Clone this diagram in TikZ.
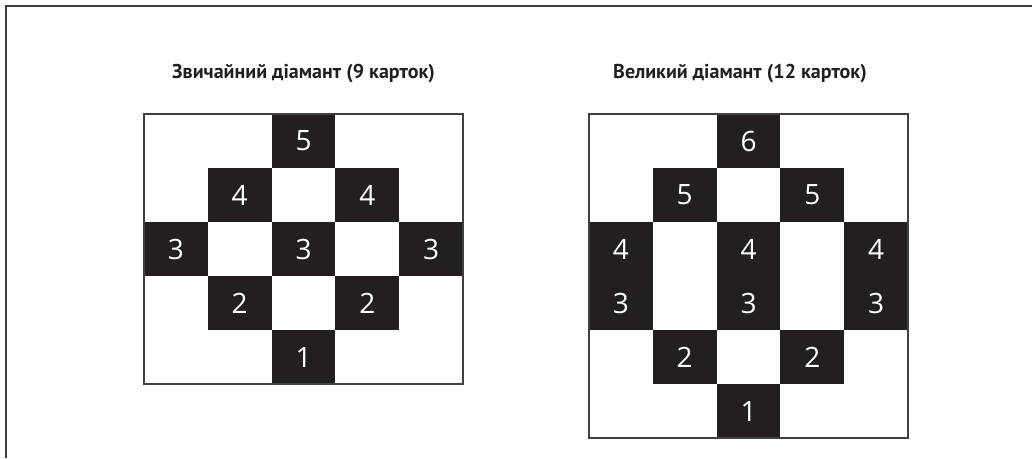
\documentclass[tikz,border=0pt]{standalone}
\usepackage{fontspec}
\setmainfont{PT Sans}
\newfontfamily\digitfont{Open Sans}
\usepackage{xcolor}
\usetikzlibrary{positioning}
\definecolor{cardblack}{HTML}{231F20}
\definecolor{rulegray}{HTML}{404040}

\begin{document}
\begin{tikzpicture}[x=1pt,y=-1pt,
    card/.style={rectangle,fill=cardblack,inner sep=0pt,minimum width=63.8pt,minimum height=54pt,text=white,font=\digitfont\fontsize{28}{28}\selectfont},
    heading/.style={anchor=base,font=\bfseries\fontsize{20}{20}\selectfont,text=cardblack},
    frame/.style={draw=rulegray,line width=1.5pt}]
        \useasboundingbox (0,0) rectangle (1032,458);
        \draw[frame] (6,458) -- (6,6) -- (1032,6);
        % left diamond, 5x5
        \node[heading] (tleft) at (303.5,78) {Звичайний діамант (9 карток)};
        \foreach \c/\r/\n/\k in {3/1/5/a,2/2/4/b,4/2/4/c,1/3/3/d,3/3/3/e,5/3/3/f,2/4/2/g,4/4/2/h,3/5/1/i}
            \node[card] (z\k) at ({144+63.8*(\c-0.5)},{114+54*(\r-0.5)}) {\n};
        \draw[frame] (144,114) rectangle (463,384);
        % right diamond, 5x6
        \node[heading] (tright) at (740,78) {Великий діамант (12 карток)};
        \foreach \c/\r/\n/\k in {3/1/6/a,2/2/5/b,4/2/5/c,1/3/4/d,3/3/4/e,5/3/4/f,1/4/3/g,3/4/3/h,5/4/3/i,2/5/2/j,4/5/2/k,3/6/1/l}
            \node[card] (v\k) at ({589+63.8*(\c-0.5)},{114+54*(\r-0.5)}) {\n};
        \draw[frame] (589,114) rectangle (908,438);
\end{tikzpicture}
\end{document}
